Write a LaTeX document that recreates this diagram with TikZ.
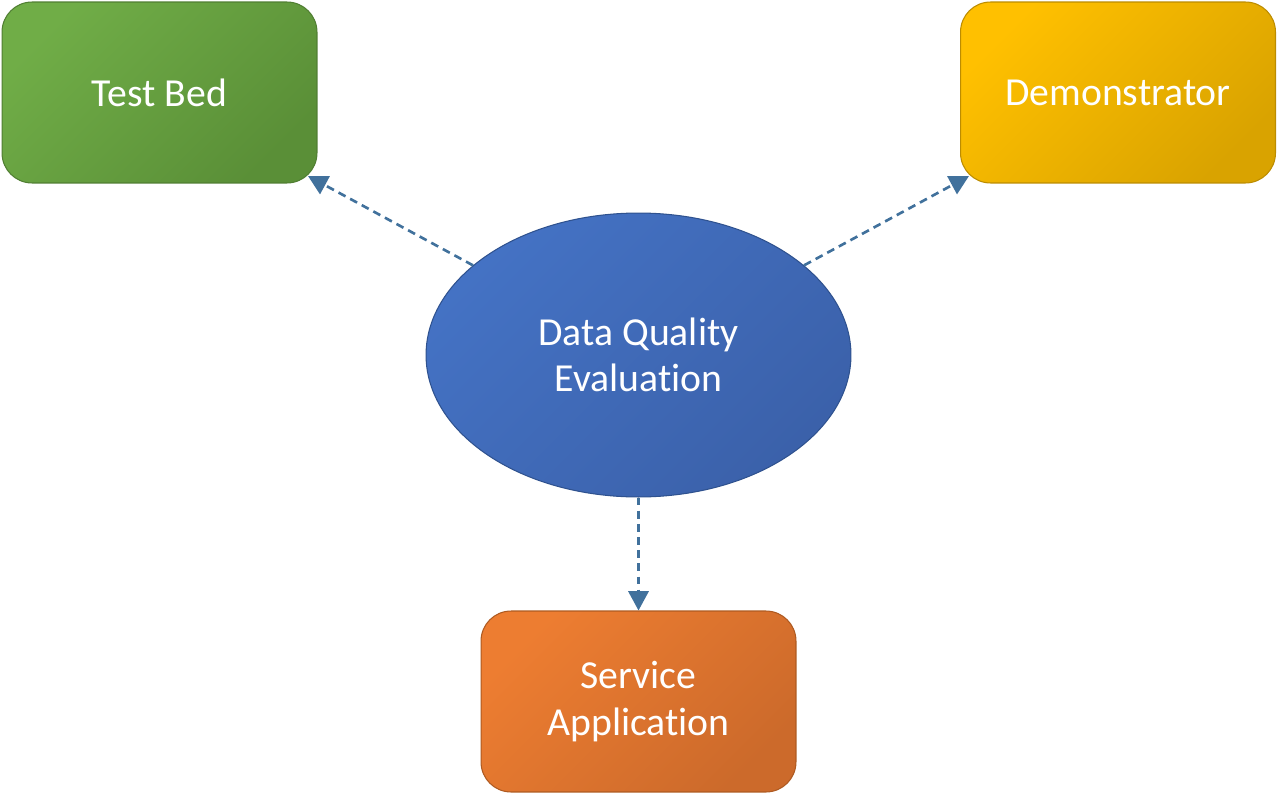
\documentclass[tikz,border=0pt]{standalone}
\usepackage{fontspec}
\setmainfont{Carlito}[Ligatures=NoCommon]
\usetikzlibrary{shapes.geometric,arrows.meta}
\definecolor{gA}{HTML}{70AD47}\definecolor{gB}{HTML}{5A8F37}\definecolor{gL}{HTML}{507E32}
\definecolor{yA}{HTML}{FFC000}\definecolor{yB}{HTML}{D9A300}\definecolor{yL}{HTML}{BC8C00}
\definecolor{bA}{HTML}{4472C4}\definecolor{bB}{HTML}{3B61AA}\definecolor{bL}{HTML}{2F528F}
\definecolor{oA}{HTML}{ED7D31}\definecolor{oB}{HTML}{CC6A2B}\definecolor{oL}{HTML}{AE5A21}
\definecolor{arr}{HTML}{41719C}
\tikzset{
  box/.style={rectangle, rounded corners=0.6cm, minimum width=6.3cm, minimum height=3.62cm,
    inner sep=0pt, line width=0.6pt, text=white, align=center,
    font=\fontsize{22.6}{26.5}\selectfont},
  oval/.style={ellipse, minimum width=8.5cm, minimum height=5.68cm, inner sep=0pt,
    line width=0.6pt, text=white, align=center, font=\fontsize{22.6}{26.5}\selectfont},
  grad/.style n args={3}{draw=#3, top color=#1, bottom color=#2, shading angle=45},
  link/.style={draw=arr, line width=1.5pt, dash pattern=on 4.5pt off 3pt,
    -{Triangle[length=11pt,width=11.5pt,fill=arr]}}
}
\begin{document}
\begin{tikzpicture}[x=0.02cm,y=-0.02cm]
\useasboundingbox (0,0) rectangle (1277,794);
\node[box, grad={gA}{gB}{gL}] (tb) at (159.5,92.5) {Test Bed};
\node[box, grad={yA}{yB}{yL}] (dm) at (1118,92.5) {Demonstrator};
\node[box, grad={oA}{oB}{oL}] (sa) at (638.5,701.5) {Service\\Application};
\node[oval, grad={bA}{bB}{bL}] (dq) at (638.5,355) {Data Quality\\Evaluation};
\coordinate (tbtip) at (308,176);
\coordinate (dmtip) at (969,176);
\draw[link] (dq) -- (tbtip);
\draw[link] (dq) -- (dmtip);
\draw[link] (dq.south) -- (sa.north);
\end{tikzpicture}
\end{document}
